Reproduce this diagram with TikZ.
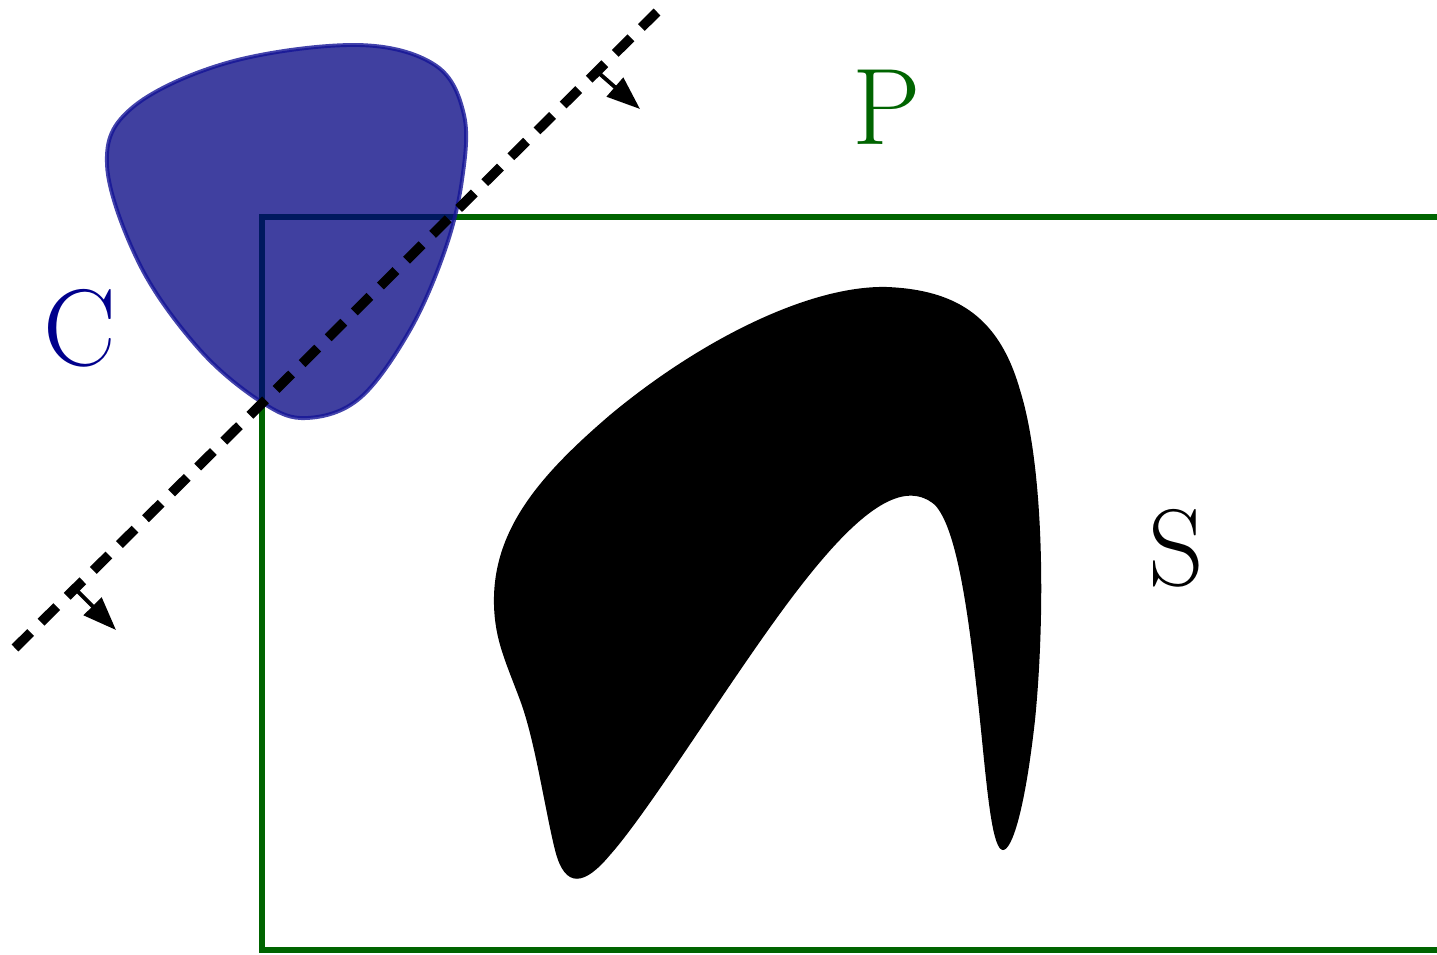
\documentclass[tikz,border=0pt]{standalone}
\usetikzlibrary{arrows.meta}
\definecolor{pgreen}{RGB}{0,100,0}
\definecolor{cnavy}{RGB}{0,0,128}
\definecolor{cedge}{RGB}{20,20,150}
\definecolor{clabel}{RGB}{0,0,140}
\tikzset{
  frame/.style={draw=pgreen, line width=3pt},
  blob/.style={fill=cnavy, fill opacity=0.75, draw=cedge, draw opacity=0.8, line width=2.2pt},
  cut/.style={draw=black, line width=5.5pt, dash pattern=on 12.52pt off 8.39pt},
  side/.style={draw=black, line width=2.2pt, -{Triangle[length=19pt,width=14pt]}},
  biglabel/.style={font=\fontsize{62}{70}\selectfont, inner sep=0pt}
}
\begin{document}
\begin{tikzpicture}[x=0.02cm,y=-0.02cm]
\useasboundingbox (0,0) rectangle (1437,954);
% green region P
\coordinate (r1) at (1440,217);
\coordinate (r2) at (262,217);
\coordinate (r3) at (262,950);
\coordinate (r4) at (1440,950);
\draw[frame] (r1) -- (r2) -- (r3) -- (r4);
% black shape S
\fill[black] (494,605)
  .. controls (492,530) and (540,475) .. (610,415)
  .. controls (700,340) and (810,285) .. (887,287)
  .. controls (960,290) and (1000,320) .. (1020,390)
  .. controls (1045,470) and (1045,620) .. (1035,720)
  .. controls (1025,810) and (1012,850) .. (1003,850)
  .. controls (993,850) and (988,800) .. (982,740)
  .. controls (970,620) and (958,530) .. (935,505)
  .. controls (900,475) and (850,520) .. (790,600)
  .. controls (730,680) and (650,810) .. (610,855)
  .. controls (585,885) and (565,890) .. (555,850)
  .. controls (545,810) and (535,740) .. (520,700)
  .. controls (505,660) and (495,640) .. (494,605) -- cycle;
% blue convex set C
\path[blob] plot[smooth cycle, tension=0.6] coordinates {
  (107,165) (133,107) (230,62) (357,45) (435,65) (464,115) (462,180)
  (445,250) (410,330) (360,398) (307,418) (263,403) (200,350) (140,265)};
% separating line
\coordinate (d1) at (15,648);
\coordinate (d2) at (657,12);
\draw[cut] (d1) -- (d2);
\coordinate (a1s) at (597,71.4);
\coordinate (a1e) at (640,109);
\coordinate (a2s) at (75,588.5);
\coordinate (a2e) at (116,630);
\draw[side] (a1s) -- (a1e);
\draw[side] (a2s) -- (a2e);
% labels
\node[biglabel, text=clabel] (C) at (80,328) {C};
\node[biglabel, text=pgreen] (P) at (887,107) {P};
\node[biglabel, text=black] (S) at (1176,548) {S};
\end{tikzpicture}
\end{document}
